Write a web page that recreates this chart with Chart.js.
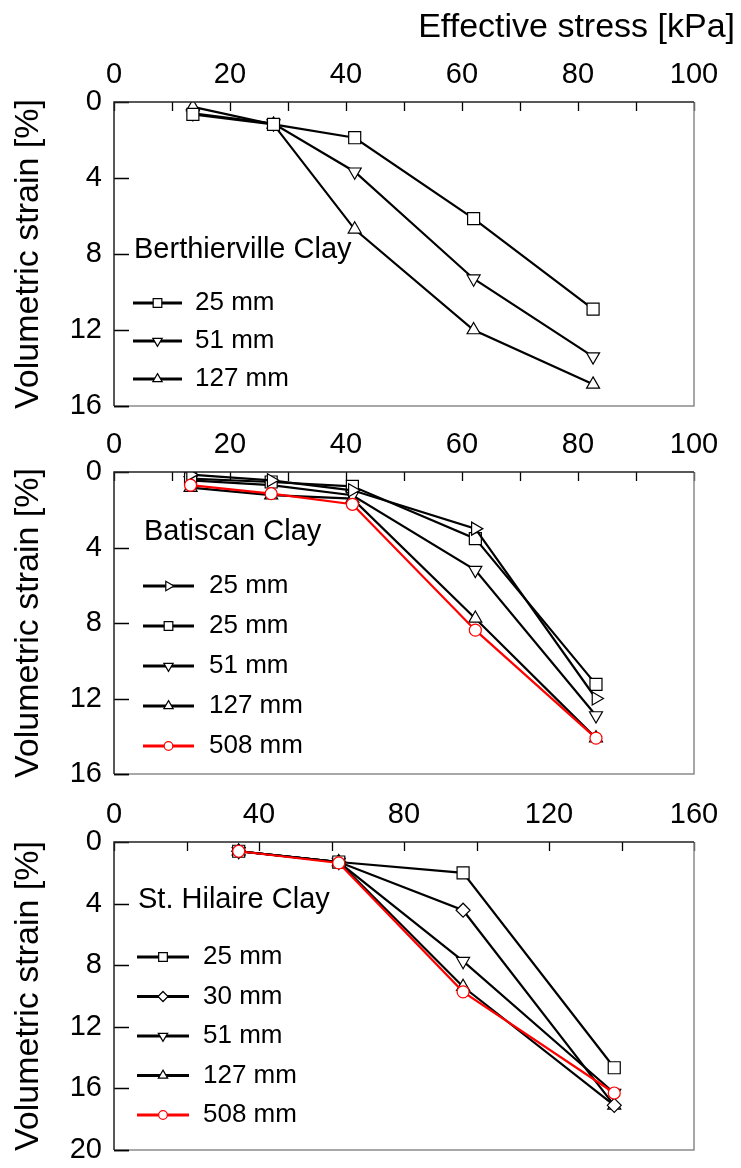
<!DOCTYPE html>
<html>
<head>
<meta charset="utf-8">
<script src="https://cdn.jsdelivr.net/npm/chart.js@4.4.1/dist/chart.umd.min.js"></script>
<style>
  html, body { margin: 0; padding: 0; background: #fff; }
  #wrap { position: relative; width: 741px; height: 1168px; overflow: hidden; background: #fff; }
  canvas { position: absolute; left: 0; }
</style>
</head>
<body>
<div id="wrap">
  <canvas id="berthChart" width="741" height="420" style="top:0"></canvas>
  <canvas id="batChart" width="741" height="370" style="top:420px"></canvas>
  <canvas id="hilChart" width="741" height="378" style="top:790px"></canvas>
</div>
<script>
/*************************************************
 * DATA (effective stress [kPa] vs volumetric strain [%])
 *************************************************/

// Berthierville Clay
const berthStress = [13.6, 27.5, 41.5, 62.0, 82.6];
const berth25  = [0.65, 1.18, 1.88, 6.14, 10.9];
const berth51  = [0.6, 1.14, 3.67, 9.3, 13.4];
const berth127 = [0.26, 1.18, 6.7, 12.0, 14.86];

// Batiscan Clay
const batStress = [13.2, 27.1, 41.1, 62.3, 83.1];
const bat25a = [0.14, 0.44, 0.97, 3.0, 12.0];
const bat25b = [0.35, 0.53, 0.76, 3.53, 11.25];
const bat51  = [0.44, 0.7, 1.23, 5.2, 12.9];
const bat127 = [0.83, 1.23, 1.41, 7.76, 14.1];
const bat508 = [0.7, 1.15, 1.71, 8.38, 14.1];

// St. Hilaire Clay
const hilStress = [34.4, 62.0, 96.3, 138.0];
const hil25  = [0.6, 1.3, 2.0, 14.66];
const hil30  = [0.6, 1.3, 4.43, 17.1];
const hil51  = [0.6, 1.3, 7.74, 16.3];
const hil127 = [0.6, 1.3, 9.4, 17.1];
const hil508 = [0.6, 1.36, 9.73, 16.3];

// Axis ranges
const berthXMax = 100, batXMax = 100, hilXMax = 160;
const berthYMax = 16, batYMax = 16, hilYMax = 20;


/*************************************************
 * STYLE HELPERS
 *************************************************/
const FONT = '"Liberation Sans", Arial, sans-serif';
const BLACK = "#000000";
const RED = "#ff0000";
const markerRadius = { rect: 8.5, triangle: 7.5, rectRot: 7, circle: 6 };

Chart.defaults.font.family = FONT;
Chart.defaults.color = BLACK;

function series(label, xs, ys, style, rotation, color) {
  return {
    label: label,
    data: xs.map((x, i) => ({ x: x, y: ys[i] })),
    borderColor: color,
    borderWidth: 2.2,
    pointStyle: style,
    pointRotation: rotation,
    pointRadius: markerRadius[style],
    pointBorderWidth: 1.2,
    pointBorderColor: color,
    pointBackgroundColor: "#ffffff",
    tension: 0,
    order: color === RED ? 0 : 1
  };
}

function drawMarker(ctx, style, rot, x, y, r) {
  ctx.beginPath();
  if (style === "circle") {
    ctx.arc(x, y, r, 0, Math.PI * 2);
  } else if (style === "rect") {
    const s = r * Math.SQRT1_2;
    ctx.rect(x - s, y - s, 2 * s, 2 * s);
  } else if (style === "rectRot") {
    ctx.moveTo(x, y - r);
    ctx.lineTo(x + r, y);
    ctx.lineTo(x, y + r);
    ctx.lineTo(x - r, y);
    ctx.closePath();
  } else {
    let a = rot * Math.PI / 180;
    for (let k = 0; k < 3; k++) {
      const px = x + Math.sin(a) * r;
      const py = y - Math.cos(a) * r;
      if (k === 0) ctx.moveTo(px, py); else ctx.lineTo(px, py);
      a += 2 * Math.PI / 3;
    }
    ctx.closePath();
  }
  ctx.fill();
  ctx.stroke();
}


/*************************************************
 * FRAME / INWARD TICKS / LEGEND PLUGIN
 *************************************************/
const framePlugin = {
  id: "frame",
  afterDraw(chart, args, opts) {
    const { ctx, chartArea: a } = chart;
    const xs = chart.scales.x;
    const ys = chart.scales.y;
    ctx.save();

    // inward ticks
    ctx.strokeStyle = BLACK;
    ctx.lineWidth = 1.3;
    ctx.beginPath();
    for (let v = xs.min; v <= xs.max; v += opts.xMinor) {
      const px = Math.round(xs.getPixelForValue(v)) + 0.5;
      ctx.moveTo(px, a.top);
      ctx.lineTo(px, a.top + 9);
    }
    ys.ticks.forEach(t => {
      const py = Math.round(ys.getPixelForValue(t.value)) + 0.5;
      ctx.moveTo(a.left, py);
      ctx.lineTo(a.left + 15, py);
    });
    ctx.stroke();

    // frame: right / bottom grey, left / top black
    ctx.strokeStyle = "#8a8a8a";
    ctx.lineWidth = 1.5;
    ctx.beginPath();
    ctx.moveTo(a.right, a.top);
    ctx.lineTo(a.right, a.bottom);
    ctx.lineTo(a.left, a.bottom);
    ctx.stroke();
    ctx.strokeStyle = "#222";
    ctx.beginPath();
    ctx.moveTo(a.left, a.bottom);
    ctx.lineTo(a.left, a.top);
    ctx.lineTo(a.right, a.top);
    ctx.stroke();
    ctx.beginPath();
    ctx.strokeStyle = BLACK;
    const pyMax = Math.round(ys.getPixelForValue(ys.max)) + 0.5;
    ctx.moveTo(a.left, pyMax);
    ctx.lineTo(a.left + 15, pyMax);
    ctx.stroke();

    // top axis title (only first panel)
    if (opts.xTitle) {
      ctx.fillStyle = BLACK;
      ctx.font = "34px " + FONT;
      ctx.textAlign = "right";
      ctx.textBaseline = "middle";
      ctx.fillText(opts.xTitle, opts.xTitleX, opts.xTitleY);
    }

    // legend: title + line/marker rows
    const leg = opts.legend;
    ctx.fillStyle = BLACK;
    ctx.textAlign = "left";
    ctx.textBaseline = "middle";
    ctx.font = "29px " + FONT;
    ctx.fillText(leg.title, leg.titleX, leg.titleY);
    ctx.font = "26px " + FONT;
    chart.data.datasets.forEach((ds, i) => {
      const y = leg.rowY + i * leg.rowGap;
      ctx.strokeStyle = ds.borderColor;
      ctx.lineWidth = 3;
      ctx.beginPath();
      ctx.moveTo(leg.lineX0, y);
      ctx.lineTo(leg.lineX1, y);
      ctx.stroke();
      ctx.lineWidth = 1.2;
      ctx.fillStyle = "#ffffff";
      drawMarker(ctx, ds.pointStyle, ds.pointRotation, (leg.lineX0 + leg.lineX1) / 2, y, ds.pointRadius * 0.72);
      ctx.fillStyle = BLACK;
      ctx.fillText(ds.label, leg.textX, y);
    });

    ctx.restore();
  }
};


/*************************************************
 * CHART BUILDER
 *************************************************/
function makeChart(id, datasets, cfg) {
  return new Chart(document.getElementById(id), {
    type: "line",
    data: { datasets: datasets },
    options: {
      responsive: false,
      animation: false,
      events: [],
      layout: { padding: { left: 0, right: 47, top: 0, bottom: cfg.bottom } },
      plugins: {
        legend: { display: false },
        tooltip: { enabled: false },
        frame: cfg.frame
      },
      scales: {
        x: {
          type: "linear",
          position: "top",
          min: 0,
          max: cfg.xMax,
          grid: { display: false, drawTicks: false },
          border: { display: false },
          ticks: { stepSize: cfg.xStep, padding: 10, color: BLACK, font: { size: 29 }, autoSkip: false, maxRotation: 0 },
          afterFit: s => { s.height = cfg.top; s.paddingLeft = 0; s.paddingRight = 0; }
        },
        y: {
          type: "linear",
          reverse: true,
          min: 0,
          max: cfg.yMax,
          grid: { display: false, drawTicks: false },
          border: { display: false },
          ticks: { stepSize: 4, padding: 12, color: BLACK, font: { size: 29 }, autoSkip: false },
          title: {
            display: true,
            text: "Volumetric strain [%]",
            color: BLACK,
            font: { size: 34 },
            padding: { top: 8, bottom: 0 }
          },
          afterFit: s => { s.width = 114; s.paddingTop = 0; s.paddingBottom = 0; }
        }
      }
    },
    plugins: [framePlugin]
  });
}


/*************************************************
 * PANELS
 *************************************************/
makeChart("berthChart", [
  series("25 mm", berthStress, berth25, "rect", 0, BLACK),
  series("51 mm", berthStress, berth51, "triangle", 180, BLACK),
  series("127 mm", berthStress, berth127, "triangle", 0, BLACK)
], {
  xMax: berthXMax, xStep: 20, yMax: berthYMax, top: 102, bottom: 14,
  frame: {
    xMinor: 10,
    xTitle: "Effective stress [kPa]", xTitleX: 735, xTitleY: 28,
    legend: { title: "Berthierville Clay", titleX: 134, titleY: 250,
              rowY: 303, rowGap: 38, lineX0: 133, lineX1: 182, textX: 195 }
  }
});

makeChart("batChart", [
  series("25 mm", batStress, bat25a, "triangle", 90, BLACK),
  series("25 mm", batStress, bat25b, "rect", 0, BLACK),
  series("51 mm", batStress, bat51, "triangle", 180, BLACK),
  series("127 mm", batStress, bat127, "triangle", 0, BLACK),
  series("508 mm", batStress, bat508, "circle", 0, RED)
], {
  xMax: batXMax, xStep: 20, yMax: batYMax, top: 52, bottom: 16,
  frame: {
    xMinor: 10,
    legend: { title: "Batiscan Clay", titleX: 144, titleY: 112,
              rowY: 166, rowGap: 40, lineX0: 143, lineX1: 194, textX: 209 }
  }
});

makeChart("hilChart", [
  series("25 mm", hilStress, hil25, "rect", 0, BLACK),
  series("30 mm", hilStress, hil30, "rectRot", 0, BLACK),
  series("51 mm", hilStress, hil51, "triangle", 180, BLACK),
  series("127 mm", hilStress, hil127, "triangle", 0, BLACK),
  series("508 mm", hilStress, hil508, "circle", 0, RED)
], {
  xMax: hilXMax, xStep: 40, yMax: hilYMax, top: 52, bottom: 18,
  frame: {
    xMinor: 20,
    legend: { title: "St. Hilaire Clay", titleX: 138, titleY: 110,
              rowY: 167, rowGap: 39.5, lineX0: 137, lineX1: 189, textX: 203 }
  }
});
</script>
</body>
</html>
